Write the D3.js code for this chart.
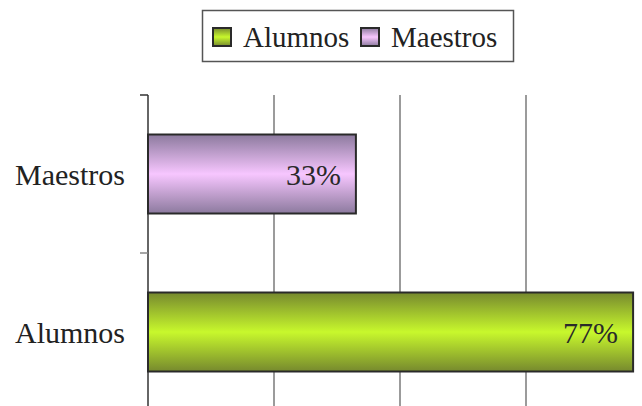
<!DOCTYPE html>
<html><head><meta charset="utf-8">
<script src="https://cdn.jsdelivr.net/npm/d3@7"></script>
<style>body{margin:0;background:#fff}svg{display:block}text{font-family:"Liberation Serif","Times New Roman",Times,serif}</style>
</head><body>
<script>
const categories = ["Maestros", "Alumnos"];
const values = [0.33, 0.77];
const labels = ["33%", "77%"];
const legendNames = ["Alumnos", "Maestros"];
const gridTicks = [0, 0.2, 0.4, 0.6, 0.8];

const W = 642, H = 406;
const svg = d3.select("body").append("svg").attr("width", W).attr("height", H);

const colors = {
  Alumnos: {edge: "#76892e", mid: "#c8f82c"},
  Maestros: {edge: "#8c7a9e", mid: "#f7c6ff"}
};
const defs = svg.append("defs");
Object.entries(colors).forEach(([k, c]) => {
  const g = defs.append("linearGradient").attr("id", "g" + k).attr("x1", 0).attr("x2", 0).attr("y1", 0).attr("y2", 1);
  g.append("stop").attr("offset", "0%").attr("stop-color", c.edge);
  g.append("stop").attr("offset", "50%").attr("stop-color", c.mid);
  g.append("stop").attr("offset", "100%").attr("stop-color", c.edge);
});

const x = d3.scaleLinear().domain([0, 0.8]).range([148, 652]);
const y = d3.scaleBand().domain(categories).range([95, 411]).paddingInner(0.5).paddingOuter(0.25);

// gridlines
svg.append("g").selectAll("line").data(gridTicks.slice(1)).join("line")
  .attr("x1", d => x(d)).attr("x2", d => x(d)).attr("y1", 95).attr("y2", H)
  .attr("stroke", "#7a7a7a").attr("stroke-width", 1.5);

// y axis
svg.append("line").attr("x1", 148).attr("x2", 148).attr("y1", 95).attr("y2", H)
  .attr("stroke", "#333").attr("stroke-width", 1.5);
const bandEdges = [95, 95 + y.step() * 1, 95 + y.step() * 2];
svg.append("g").selectAll("line").data(bandEdges).join("line")
  .attr("x1", 140).attr("x2", 148).attr("y1", d => d).attr("y2", d => d)
  .attr("stroke", (d, i) => i === 0 ? "#333" : "#888").attr("stroke-width", 1.5);

// category labels
svg.append("g").selectAll("text").data(categories).join("text")
  .attr("x", 125).attr("y", d => y(d) + y.bandwidth() / 2)
  .attr("dy", "0.35em").attr("text-anchor", "end")
  .attr("font-size", 30).attr("fill", "#222")
  .text(d => d);

// bars
svg.append("g").selectAll("rect").data(categories).join("rect")
  .attr("x", x(0)).attr("y", d => y(d))
  .attr("width", (d, i) => x(values[i]) - x(0)).attr("height", y.bandwidth())
  .attr("fill", d => `url(#g${d})`).attr("stroke", "#2a2a2a").attr("stroke-width", 2);

svg.append("g").selectAll("text").data(categories).join("text")
  .attr("x", (d, i) => x(values[i]) - 15).attr("y", d => y(d) + y.bandwidth() / 2)
  .attr("dy", "0.35em").attr("text-anchor", "end")
  .attr("font-size", 30).attr("fill", "#2a2a2a")
  .text((d, i) => labels[i]);

// legend
const lg = svg.append("g");
lg.append("rect").attr("x", 202.5).attr("y", 10.5).attr("width", 311).attr("height", 51)
  .attr("fill", "#fff").attr("stroke", "#555").attr("stroke-width", 1.5);
const lx = [213, 361];
legendNames.forEach((n, i) => {
  lg.append("rect").attr("x", lx[i]).attr("y", 28).attr("width", 18).attr("height", 18)
    .attr("fill", `url(#g${n})`).attr("stroke", "#2a2a2a").attr("stroke-width", 2);
  lg.append("text").attr("x", lx[i] + 30).attr("y", 37).attr("dy", "0.35em")
    .attr("font-size", 29).attr("fill", "#222").text(n);
});
</script>
</body></html>
